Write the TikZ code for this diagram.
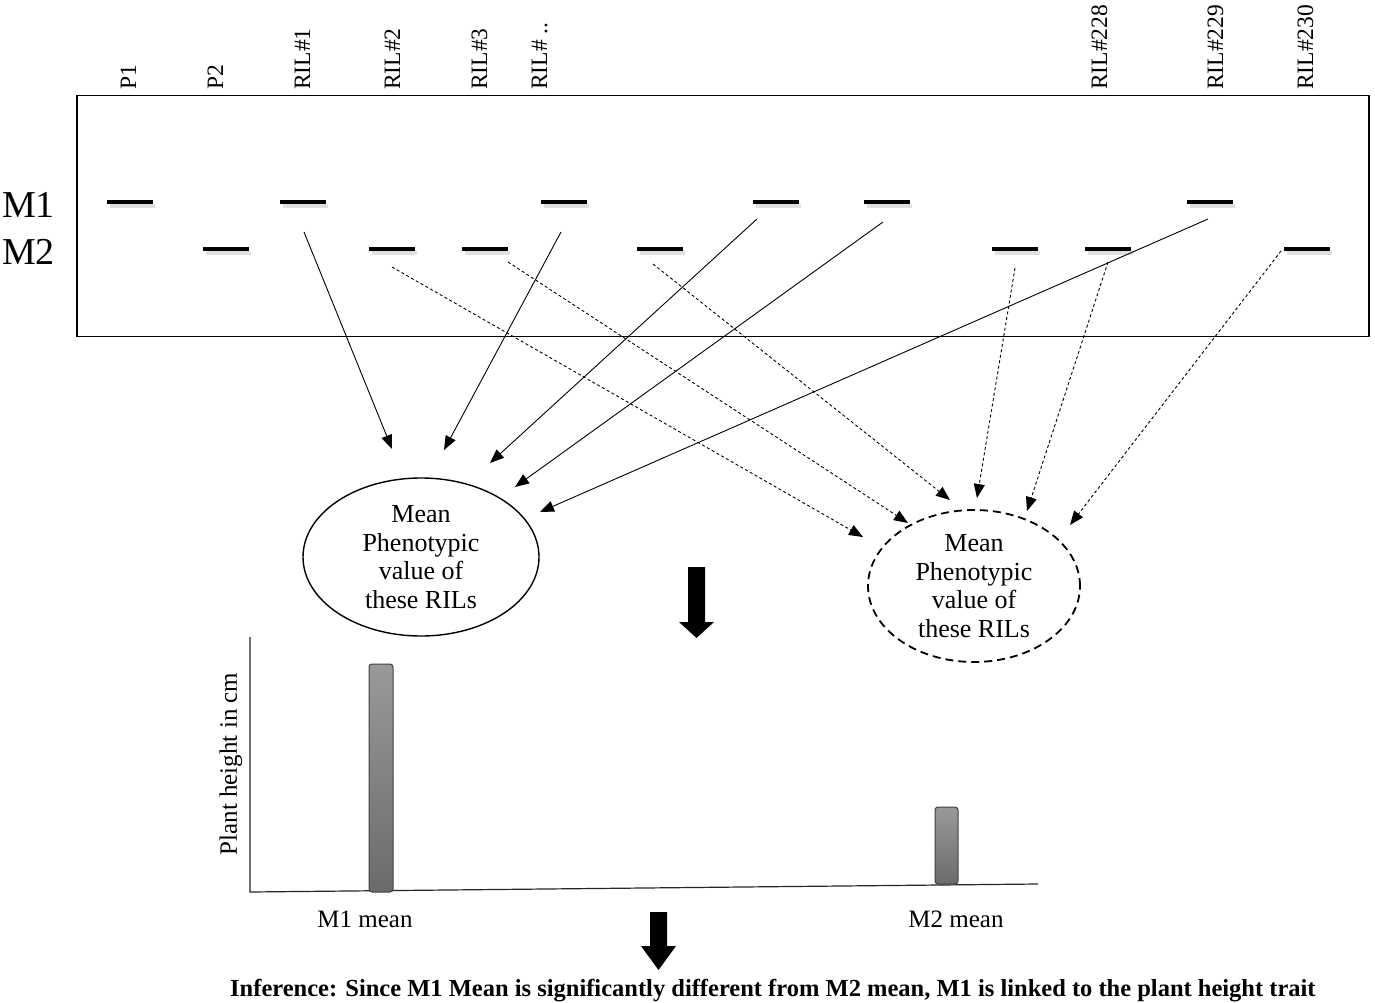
\documentclass[tikz,border=0pt]{standalone}
\usepackage{fontspec}
\setmainfont{Liberation Serif}
\usetikzlibrary{arrows.meta,shapes.geometric}
\begin{document}
\begin{tikzpicture}[x=1pt,y=-1pt,
  band/.style={line width=3.2pt},
  bandshadow/.style={line width=4pt, gray!35, opacity=0.7},
  toplabel/.style={rotate=90, anchor=base west, inner sep=0pt, font=\fontsize{23.5}{26}\selectfont},
  sidelabel/.style={anchor=base west, inner sep=0pt, font=\fontsize{38}{40}\selectfont},
  conn/.style={line width=0.9pt, -{Triangle[length=14pt,width=11pt]}},
  dconn/.style={conn, dash pattern=on 3pt off 2.5pt},
  ellbox/.style={draw, ellipse, inner sep=0pt, line width=1.4pt},
  elltext/.style={align=center, inner sep=0pt, font=\fontsize{26}{28.7}\selectfont},
  bar/.style={draw=black!75, line width=1pt, rounded corners=3pt, top color=black!40, bottom color=black!58},
  axis/.style={line width=1.2pt, black!85},
  bigarrow/.style={fill=black}
]
\useasboundingbox (0,0) rectangle (1375,1003);
\fill[white] (0,0) rectangle (1375,1003);

% gel box
\node[draw, line width=1.5pt, minimum width=1292pt, minimum height=241pt, inner sep=0pt] (gel) at (723,216) {};

% top labels
\node[toplabel] (lP1) at (136,90) {P1};
\node[toplabel] (lP2) at (223,90) {P2};
\node[toplabel] (lR1) at (310,90) {RIL\#1};
\node[toplabel] (lR2) at (400,90) {RIL\#2};
\node[toplabel] (lR3) at (487,90) {RIL\#3};
\node[toplabel] (lRd) at (547,90) {RIL\# ..};
\node[toplabel] (lR228) at (1107,90) {RIL\#228};
\node[toplabel] (lR229) at (1223,90) {RIL\#229};
\node[toplabel] (lR230) at (1313,90) {RIL\#230};

% side labels
\node[sidelabel] (lM1) at (2,218) {M1};
\node[sidelabel] (lM2) at (2,264) {M2};

% bands
\foreach \x in {107,280,541,753,864,1187}{
  \draw[bandshadow] (\x+3,206) -- (\x+48,206);
  \draw[band] (\x,202) -- (\x+46,202);
}
\foreach \x in {203,369,462,637,992,1085,1284}{
  \draw[bandshadow] (\x+3,253) -- (\x+48,253);
  \draw[band] (\x,249) -- (\x+46,249);
}

% ellipses
\node[ellbox, minimum width=236pt, minimum height=158pt] (e1) at (421,557) {};
\node[elltext] (e1t) at (e1.center) {Mean\\Phenotypic\\value of\\these RILs};
\node[ellbox, dash pattern=on 8pt off 5pt, line width=1.8pt, minimum width=212pt, minimum height=152pt] (e2) at (974,586) {};
\node[elltext] (e2t) at (e2.center) {Mean\\Phenotypic\\value of\\these RILs};

% connector end points
\coordinate (s1) at (304,232);
\coordinate (s2) at (561,232);
\coordinate (s3) at (757,219);
\coordinate (s4) at (883,222);
\coordinate (s5) at (1208,219);
\coordinate (t1) at (392,449);
\coordinate (t2) at (444,450);
\coordinate (t3) at (490,463);
\coordinate (t4) at (515,487);
\coordinate (t5) at (540,512);

\coordinate (d1) at (392,267);
\coordinate (d2) at (508,262);
\coordinate (d3) at (653,264);
\coordinate (d4) at (1015,268);
\coordinate (d5) at (1108,262);
\coordinate (d6) at (1281,251);
\coordinate (u1) at (863,537);
\coordinate (u2) at (908,523);
\coordinate (u3) at (950,500);
\coordinate (u4) at (977,498);
\coordinate (u5) at (1027,511);
\coordinate (u6) at (1070,525);

\draw[conn] (s1) -- (t1);
\draw[conn] (s2) -- (t2);
\draw[conn] (s3) -- (t3);
\draw[conn] (s4) -- (t4);
\draw[conn] (s5) -- (t5);
\draw[dconn] (d1) -- (u1);
\draw[dconn] (d2) -- (u2);
\draw[dconn] (d3) -- (u3);
\draw[dconn] (d4) -- (u4);
\draw[dconn] (d5) -- (u5);
\draw[dconn] (d6) -- (u6);

% big arrows
\fill[bigarrow] (688,567) -- (705,567) -- (705,622) -- (714,622) -- (696.5,638) -- (679,622) -- (688,622) -- cycle;
\fill[bigarrow] (650,912) -- (667,912) -- (667,946) -- (676,946) -- (658.5,970) -- (641,946) -- (650,946) -- cycle;

% chart
\coordinate (ytop) at (250,637);
\coordinate (orig) at (250,892);
\coordinate (xend) at (1038,884);
\draw[axis] (ytop) -- (orig) -- (xend);
\node[rotate=90, inner sep=0pt, font=\fontsize{25}{28}\selectfont] (ylab) at (231,764) {Plant height in cm};
\shade[bar] (369,664) rectangle (393,892);
\shade[bar] (935,807) rectangle (958,884);
\node[anchor=base, inner sep=0pt, font=\fontsize{25}{28}\selectfont] (m1) at (365,927) {M1 mean};
\node[anchor=base, inner sep=0pt, font=\fontsize{25}{28}\selectfont] (m2) at (956,927) {M2 mean};

% inference
\node[anchor=base west, inner sep=0pt, font=\bfseries\fontsize{24.5}{27}\selectfont] (inf) at (230,996) {Inference: Since M1 Mean is significantly different from M2 mean, M1 is linked to the plant height trait};
\end{tikzpicture}
\end{document}
